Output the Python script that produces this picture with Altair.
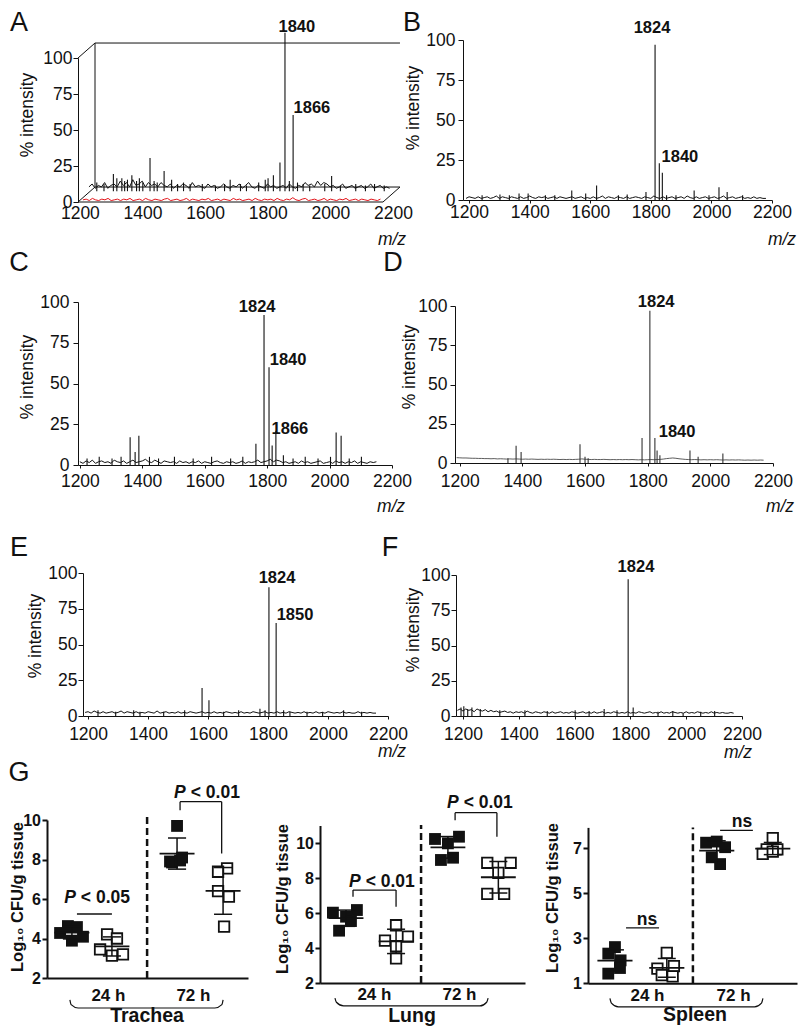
import altair as alt
import pandas as pd

FONT = "Liberation Sans"
INK = "#111111"
RED = "#e3151b"
O = 8                      # page margin: reference pixel X -> plot pixel X - O
W_ALL, H_ALL = 791, 1018   # one plot area covering the whole figure

XTICKS = [1200, 1400, 1600, 1800, 2000, 2200]
YTICKS = [0, 25, 50, 75, 100]

# ---------------- Spectra: baseline noise (every 10 m/z) + peaks ----------------
A_RED_START = 1210
A_RED_NOISE = [1.5,2,1,2.5,1.5,1,2,1.5,2.5,1, 1.5,2,1,2,1.5,2.5,1,1.5,2,1,
               2.5,1.5,1,2,1.5,1,2,2.5,1,1.5, 2,1,1.5,2.5,1,2,1.5,1,2,1.5,
               2.5,1,1.5,2,1,2,1.5,1,2.5,1.5, 2,1,1.5,2,1,2.5,1.5,1,2,1.5,
               2,1,2.5,1.5,1,2,1.5,3,1.5,1, 2,2.5,1,1.5,2,1,1.5,2.5,1,2,
               1.5,1,2,1.5,2.5,1,1.5,2,1,2, 1.5,1,2,1.5,1,2]
A_BLK_START = 1200
A_BLK_NOISE = [3,5,2,4,3,6,2,4,5,3, 7,4,6,3,8,4,5,7,3,6, 4,5,3,6,4,3,5,2,4,3,
               5,4,2,6,3,4,3,2,5,3, 4,2,3,5,3,2,4,3,5,2, 4,6,3,2,4,3,2,5,3,4,
               2,3,4,2,5,3,2,4,3,6, 4,5,3,7,4,6,5,3,4,2, 3,5,2,3,4,2,3,4,2,3,
               5,2,3,4,2,3,2]
A_BLK_PEAK_MZ = [1826, 1852, 1395, 1440, 1810, 1789, 1840, 1975, 1464, 1278, 1289, 1337, 1651,
                 1225, 1248, 1305, 1314, 1323, 1352, 1361, 1372, 1408, 1418, 1483, 1502, 1523,
                 1562, 1604, 1633, 1684, 1703, 1742, 1763, 1772, 1866, 1884, 1905, 1953, 2003,
                 2052, 2083, 2112, 2143]
A_BLK_PEAK_H = [110, 53, 23, 14, 20, 11, 7, 10.5, 8, 12, 9, 11, 8,
                6, 5, 9, 7, 8, 7, 9, 6, 7, 6, 5, 6, 5,
                5, 4, 5, 5, 4, 6, 8, 9, 6, 5, 4, 5, 4,
                5, 4, 5, 4]
A_LABELS = (["1840", "1866"], [1893, 1941], [121.5, 65.3])

B_START = 1190
B_NOISE = [1,2,1.5,1,2,1,1.5,2,1,1.5, 2.5,1,2,1.5,1,2,1.5,1,2,1, 1.5,2.5,1.5,1,2,1.5,2,1,1.5,2,
           1,2,1.5,1,1.5,2,1,1.5,2,1, 1.5,1,2,1,1.5,2.5,1,2,1.5,1, 2,1.5,1,2,1,1.5,2,1.5,1,2,
           1.5,1,2.5,1.5,1,2,1,1.5,2,1, 1.5,2,1,2.5,1.5,1,2,1,1.5,2, 1,1.5,2,1,1.5,2.5,1,1.5,2,1,
           1.5,2,1,1.5,1,2,1,1.5,1,1]
B_PEAK_MZ = [1814, 1828, 1838, 1852, 1539, 1621, 1585, 1395, 1365, 1784, 1943, 2025, 2052,
             1243, 1302, 1333, 1452, 1483, 1693, 1722, 1883, 1992, 2103]
B_PEAK_H = [97, 23, 17, 3, 6, 9, 4, 4, 4, 5, 6, 8, 5,
            3, 3.5, 3, 3, 3, 3, 3.5, 3, 3, 3]
B_LABELS = (["1824", "1840"], [1804, 1896], [107.5, 26.9])

C_START = 1200
C_NOISE = [2,1,2.5,1.5,3,1,2,2.5,1.5,2, 1,3,2,1.5,2.5,1,2,3,1.5,2, 2.5,3.5,2,1.5,3,2,1,2.5,2,1.5,
           2,1,2.5,1.5,2,1,2,1.5,2.5,1, 2,1.5,1,2,2.5,1.5,1,2,1.5,2, 1,1.5,2.5,1,2,1.5,2,3,1.5,2,
           2.5,3.5,2,3,2.5,1.5,2,1,1.5,2, 1,2.5,1.5,2,1,1.5,2,2.5,1,1.5, 2,1,2.5,1.5,2,1,2,1.5,2.5,1,
           2,1.5,1,2,1.5,2]
C_PEAK_MZ = [1790, 1806, 1828, 1361, 1389, 1377, 2021, 2037, 1764, 1816,
             1223, 1262, 1303, 1332, 1423, 1452, 1503, 1563, 1622, 1683, 1722, 1852, 1883,
             1922, 1963, 2003, 2063, 2102]
C_PEAK_H = [92, 60, 21, 17, 18, 8, 20, 18, 13, 12,
            4, 5, 4, 5, 5, 4, 5, 4, 5, 4, 5, 6, 4, 5, 4, 5, 4, 5]
C_LABELS = (["1824", "1840", "1866"], [1768, 1867, 1873], [96.9, 64.4, 22.1])

D_START = 1190
D_NOISE = [3.4,3.3,3.2,3.2,3.1,3,3,2.9,2.9,2.8, 2.8,2.7,2.8,2.6,2.7,2.6,2.5,2.6,2.5,2.6,
           2.5,2.4,2.5,2.4,2.5,2.4,2.3,2.4,2.3,2.4, 2.3,2.4,2.3,2.2,2.3,2.2,2.3,2.2,2.3,2.4,
           2.6,2.4,2.3,2.2,2.3,2.2,2.2,2.3,2.2,2.1, 2.2,2.1,2.2,2.1,2.2,2.1,2.2,2.1,2,2.1,
           2,2.1,2.2,2.1,2.2,2.3,2.5,2.8,3,3.2, 3,2.7,2.5,2.3,2.2,2.1,2.2,2.1,2,2.1,
           2,2.1,2,2.1,2,1.9,2,1.9,2,1.9, 2,1.9,1.8,1.9,1.8,1.9,1.8,1.9,1.8]
D_PEAK_MZ = [1807, 1782, 1823, 1830, 1839, 1935, 1961, 2040, 1380, 1396, 1354, 1584, 1600, 1610]
D_PEAK_H = [97, 16, 16, 8, 5, 8, 4, 6, 11, 7, 3, 12, 4, 3]
D_LABELS = (["1824", "1840"], [1827, 1894], [102.5, 19.7])

E_START = 1190
E_NOISE = [2.5,3,2,3.5,2.5,2,3,2,2.5,3, 2,2.5,3.5,2,3,2.5,2,3,2,2.5, 2,3,2.5,2,3.5,2,2.5,3,2,2.5,
           2,3,2,2.5,2,3,2.5,2,2.5,3, 2,2.5,2,3,2,2.5,2,3,2.5,2, 2.5,2,3,2,2.5,2,3,2.5,2,2.5,
           3,2,2.5,2,3,2,2.5,2,3,2.5, 2,2.5,2,3,2,2.5,2,3,2,2.5, 2,3,2.5,2,2.5,2,3,2,2.5,2,
           2,3,2,2.5,2,2.5,2,2]
E_PEAK_MZ = [1803, 1827, 1580, 1603, 1773, 1790, 1873, 1373, 1930,
             1233, 1292, 1352, 1452, 1522, 1652, 1702, 1852, 1982, 2052, 2112]
E_PEAK_H = [90, 65, 19.5, 11, 5, 4, 3, 3, 3,
            4, 3, 4, 3, 4, 3, 4, 4, 3, 4, 3]
E_LABELS = (["1824", "1850"], [1830, 1890], [96.5, 70.6])

F_START = 1180
F_NOISE = [4,5,3.5,5,4,4.5,3,5,4,3.5, 4.5,3,4,3,3.5,2.5,3,3.5,2.5,3, 2,3,2.5,3,2,3.5,2.5,2,3,2.5,
           2,3,2.5,2,3,2,2.5,3,2,2.5, 2,3,2.5,2,2.5,3,2,2.5,2,3, 2,2.5,3,2,2.5,2,3,2.5,2,2.5,
           2,3,2,2.5,2,3,2.5,2,2.5,3, 2,2.5,2,3,2,2.5,2,3,2.5,2, 2.5,2,3,2,2.5,2,3,2.5,2,2.5,
           2,3,2,2.5,2,2.5,2,2,2.5,2]
F_PEAK_MZ = [1792, 1810, 1706, 1899, 1989,
             1193, 1203, 1217, 1232, 1262, 1332, 1422, 1502, 1602, 1652, 1752, 1952, 2052, 2102]
F_PEAK_H = [97, 6, 5, 3, 2,
            6, 7, 5, 6, 5, 4, 4, 3.5, 4, 3.5, 4, 3.5, 3, 3.5]
F_LABELS = (["1824"], [1820], [105.7])

# ---------------- G: log10 CFU/g tissue ----------------
GROUPS = ["f24"] * 5 + ["o24"] * 5 + ["f72"] * 5 + ["o72"] * 5
TRA_X = [0.65,1.04,1.49,1.24,1.79, 2.99,3.48,2.64,3.23,3.78, 6.47,6.12,6.72,6.22,6.62, 8.96,8.51,8.51,9.05,8.81]
TRA_V = [4.28,4.63,4.58,3.89,4.09, 4.21,4.0,3.45,3.13,3.2, 9.7,7.9,8.1,7.85,7.95, 7.55,7.38,6.4,6.12,4.6]
TRA_C = {"f24": 1.24, "o24": 3.23, "f72": 6.47, "o72": 8.76}
LUN_X = [0.63,1.27,1.80,1.51,0.93, 3.71,3.17,4.29,3.71,3.71, 5.61,6.24,6.78,5.90,6.49, 8.16,9.30,8.70,8.16,8.98]
LUN_V = [6.02,5.79,6.17,5.54,4.99, 5.3,4.42,4.65,4.11,3.41, 10.23,9.98,10.36,9.03,9.16, 8.87,8.87,8.29,7.09,7.09]
LUN_C = {"f24": 1.27, "o24": 3.71, "f72": 6.24, "o72": 8.7}
SPL_X = [1.29,0.97,1.56,0.97,1.53, 3.77,3.32,4.11,3.53,4.05, 5.65,6.16,6.56,6.32,5.92, 8.84,8.55,9.06,8.36,8.84]
SPL_V = [2.61,2.32,2.02,1.43,1.68, 2.35,1.65,1.76,1.36,1.31, 7.25,7.3,7.05,6.3,6.6, 7.45,6.95,6.95,6.75,6.85]
SPL_C = {"f24": 1.29, "o24": 3.77, "f72": 6.16, "o72": 8.84}

ONE = pd.DataFrame({"o": [0]})


def xs_(d0, d1, X0, X1):
    return alt.Scale(domain=[d0, d1], range=[X0 - O, X1 - O], nice=False, zero=False)


def ys_(v0, v1, Y0, Y1):
    return alt.Scale(domain=[v0, v1], range=[Y0 - O, Y1 - O], nice=False, zero=False)


def txt(text, X, Y, size, weight="normal", style="normal", angle=0):
    return alt.Chart(ONE).mark_text(text=text, fontSize=size, fontWeight=weight, fontStyle=style,
                                    angle=angle, align="center", baseline="middle",
                                    font=FONT, color=INK).encode(x=alt.value(X - O), y=alt.value(Y - O))


def spec_xaxis(Ybot, pad, tick, domain=True):
    kw = dict(orient="bottom", offset=(Ybot - O) - H_ALL, values=XTICKS, title=None, format="d",
              labelFontSize=17.5, labelFont=FONT, labelColor=INK, grid=False, labelFlush=False,
              labelOverlap=False, domain=domain, domainColor=INK, domainWidth=1, labelPadding=pad)
    if tick > 0:
        kw.update(ticks=True, tickSize=tick, tickColor=INK, tickWidth=1)
    else:
        kw.update(ticks=False)
    return alt.Axis(**kw)


def spec_yaxis(Xleft, pad, tick=5):
    return alt.Axis(orient="left", offset=-(Xleft - O), values=YTICKS, title=None, format="d",
                    labelFontSize=17.5, labelFont=FONT, labelColor=INK, grid=False, domain=True,
                    domainColor=INK, domainWidth=1, ticks=True, tickSize=tick, tickColor=INK,
                    tickWidth=1, labelPadding=pad)


def spectrum(start, noise, pk_mz, pk_h, labs, d0, X0, X1, Y0, Y100, xpad, xtick, ypad,
             letter, letter_xy, ytitle_xy, mz_xy, color=INK, lw=1.0):
    xs = xs_(d0, 2200, X0, X1)
    ys = ys_(0, 100, Y0, Y100)
    nd = pd.DataFrame({"mz": [start + 10 * i for i in range(len(noise))], "v": noise})
    pk = pd.DataFrame({"mz": pk_mz, "h": pk_h, "z": [0.0] * len(pk_mz)})
    lb = pd.DataFrame({"t": labs[0], "mz": labs[1], "v": labs[2]})
    return [
        alt.Chart(nd).mark_line(color=color, strokeWidth=lw).encode(
            x=alt.X("mz:Q", scale=xs, axis=spec_xaxis(Y0, xpad, xtick)),
            y=alt.Y("v:Q", scale=ys, axis=spec_yaxis(X0, ypad))),
        alt.Chart(pk).mark_rule(color=color, strokeWidth=1.1).encode(
            x=alt.X("mz:Q", scale=xs, axis=None), y=alt.Y("z:Q", scale=ys, axis=None), y2="h:Q"),
        alt.Chart(lb).mark_text(font=FONT, fontSize=16.5, fontWeight="bold", color=INK,
                                baseline="middle").encode(
            x=alt.X("mz:Q", scale=xs, axis=None), y=alt.Y("v:Q", scale=ys, axis=None), text="t:N"),
        txt(letter, letter_xy[0], letter_xy[1], 27),
        txt("% intensity", ytitle_xy[0], ytitle_xy[1], 17.5, angle=270),
        txt("m/z", mz_xy[0], mz_xy[1], 17.5, style="italic"),
    ]


# ---------- Panel A (pseudo-3D) ----------
A_X0, A_X1, A_Y0, A_Y100 = 78, 393, 202, 58
BOX_DX, BOX_DY = 54.3, 10.4      # depth of the box, in data units
TR_DX, TR_DY = 29, 7.5           # depth of the black (back) trace, in data units
A_FRONT_END = 2168


def panel_a():
    xs = xs_(1194, 2200, A_X0, A_X1)
    ys = ys_(0, 100, A_Y0, A_Y100)
    red = pd.DataFrame({"mz": [A_RED_START + 10 * i for i in range(len(A_RED_NOISE))], "v": A_RED_NOISE})
    blk = pd.DataFrame({"mz": [A_BLK_START + 10 * i for i in range(len(A_BLK_NOISE))], "v": A_BLK_NOISE})
    pk = pd.DataFrame({"mz": A_BLK_PEAK_MZ, "h": A_BLK_PEAK_H})
    lb = pd.DataFrame({"t": A_LABELS[0], "mz": A_LABELS[1], "v": A_LABELS[2]})
    x0, x1 = 1194, A_FRONT_END
    bx0, bx1 = x0 + BOX_DX, x1 + BOX_DX
    seg = pd.DataFrame({
        "x": [x0, x0, bx0, x1, bx0, bx0, x0],
        "x2": [x1, bx0, bx1, bx1, bx0, bx1, bx0],
        "y": [0, 0, BOX_DY, 0, BOX_DY, 100 + BOX_DY, 100],
        "y2": [0, BOX_DY, BOX_DY, BOX_DY, 100 + BOX_DY, 100 + BOX_DY, 100 + BOX_DY],
    })
    return [
        alt.Chart(red).mark_line(color=RED, strokeWidth=1.0).encode(
            x=alt.X("mz:Q", scale=xs, axis=spec_xaxis(A_Y0, 2.4, 0, domain=False)),
            y=alt.Y("v:Q", scale=ys, axis=spec_yaxis(A_X0, 1))),
        alt.Chart(seg).mark_rule(color=INK, strokeWidth=1).encode(
            x=alt.X("x:Q", scale=xs, axis=None), x2="x2:Q",
            y=alt.Y("y:Q", scale=ys, axis=None), y2="y2:Q"),
        alt.Chart(blk).transform_calculate(
            xd=f"datum.mz + {TR_DX}", yd=f"datum.v + {TR_DY}").mark_line(
            color=INK, strokeWidth=1.0).encode(
            x=alt.X("xd:Q", scale=xs, axis=None), y=alt.Y("yd:Q", scale=ys, axis=None)),
        alt.Chart(pk).transform_calculate(
            xd=f"datum.mz + {TR_DX}", y0=f"{TR_DY}", yt=f"datum.h + {TR_DY}").mark_rule(
            color=INK, strokeWidth=1.1).encode(
            x=alt.X("xd:Q", scale=xs, axis=None), y=alt.Y("y0:Q", scale=ys, axis=None), y2="yt:Q"),
        alt.Chart(lb).mark_text(font=FONT, fontSize=16.5, fontWeight="bold", color=INK,
                                baseline="middle").encode(
            x=alt.X("mz:Q", scale=xs, axis=None), y=alt.Y("v:Q", scale=ys, axis=None), text="t:N"),
        txt("A", 19, 23, 27),
        txt("% intensity", 28, 115, 17.5, angle=270),
        txt("m/z", 392, 240, 17.5, style="italic"),
    ]


# ---------- Panel G ----------
def cfu(xs_list, vs_list, centers, v0, vtop, X0, X1, Y0, Ytop, yticks, dash, segs, ptxt, nstxt,
        brace, xlab_vals, xlab_pad, ylab_xy, tissue, tissue_xy, mhalf, chalf):
    xsc = xs_(0, 10, X0, X1)
    ysc = ys_(v0, vtop, Y0, Ytop)
    df = pd.DataFrame({"x": xs_list, "v": vs_list, "grp": GROUPS,
                       "kind": [g[0] for g in GROUPS], "cx": [centers[g] for g in GROUPS]})
    xaxis = alt.Axis(orient="bottom", offset=(Y0 - O) - H_ALL, values=xlab_vals,
                     labelExpr="datum.value < 5 ? '24 h' : '72 h'", ticks=False,
                     domain=True, domainWidth=2, domainColor=INK, labelFontSize=17,
                     labelFontWeight="bold", labelFont=FONT, labelColor=INK, labelPadding=xlab_pad,
                     grid=False, title=None, labelFlush=False)
    yaxis = alt.Axis(orient="left", offset=-(X0 - O), values=yticks, format="d", domain=True,
                     domainWidth=2, domainColor=INK, ticks=True, tickSize=5, tickWidth=2,
                     tickColor=INK, labelFontSize=16, labelFontWeight="bold", labelPadding=1.5,
                     labelColor=INK, labelFont=FONT, grid=False, title=None)
    base = alt.Chart(df)
    X = lambda f, ax=None: alt.X(f, scale=xsc, axis=ax)
    Y = lambda f, ax=None: alt.Y(f, scale=ysc, axis=ax)
    layers = [
        base.transform_filter("datum.kind == 'f'").mark_square(
            size=140, filled=True, color=INK, opacity=1).encode(x=X("x:Q", xaxis), y=Y("v:Q", yaxis)),
        base.transform_filter("datum.kind == 'o'").mark_square(
            size=110, filled=True, fill="white", stroke=INK, strokeWidth=1.8, opacity=1).encode(
            x=X("x:Q"), y=Y("v:Q")),
    ]
    stats = base.transform_aggregate(m="mean(v)", sd="stdev(v)", groupby=["grp", "cx"]).transform_calculate(
        lo="datum.m - datum.sd", hi="datum.m + datum.sd",
        ml=f"datum.cx - {mhalf}", mr=f"datum.cx + {mhalf}",
        cl=f"datum.cx - {chalf}", cr=f"datum.cx + {chalf}")
    layers += [
        stats.mark_rule(color=INK, strokeWidth=1.8).encode(x=X("ml:Q"), x2="mr:Q", y=Y("m:Q")),
        stats.mark_rule(color=INK, strokeWidth=1.5).encode(x=X("cx:Q"), y=Y("lo:Q"), y2="hi:Q"),
        stats.mark_rule(color=INK, strokeWidth=1.5).encode(x=X("cl:Q"), x2="cr:Q", y=Y("lo:Q")),
        stats.mark_rule(color=INK, strokeWidth=1.5).encode(x=X("cl:Q"), x2="cr:Q", y=Y("hi:Q")),
        alt.Chart(pd.DataFrame({"x": [dash[0]], "a": [dash[1]], "b": [dash[2]]})).mark_rule(
            color=INK, strokeWidth=2.5, strokeDash=[7, 4]).encode(x=X("x:Q"), y=Y("a:Q"), y2="b:Q"),
        alt.Chart(pd.DataFrame(segs, columns=["x", "x2", "y", "y2"])).mark_rule(
            color=INK, strokeWidth=1.3).encode(x=X("x:Q"), x2="x2:Q", y=Y("y:Q"), y2="y2:Q"),
        alt.Chart(pd.DataFrame({"x": brace[0], "y": brace[1], "i": list(range(len(brace[0])))})).mark_line(
            color=INK, strokeWidth=1.2, interpolate="monotone").encode(x=X("x:Q"), y=Y("y:Q"), order="i:Q"),
    ]
    fs = 17.5
    wP, gap, wR = 0.667 * fs, 5.0, 2.808 * fs
    left = -(wP + gap + wR) / 2
    if ptxt:
        pt = pd.DataFrame(ptxt, columns=["x", "y", "t"])
        layers.append(alt.Chart(pt).mark_text(text="P", font=FONT, fontSize=fs, fontWeight="bold",
                                              fontStyle="italic", align="left", baseline="middle",
                                              dx=left, color=INK).encode(x=X("x:Q"), y=Y("y:Q")))
        layers.append(alt.Chart(pt).mark_text(font=FONT, fontSize=fs, fontWeight="bold",
                                              align="left", baseline="middle",
                                              dx=left + wP + gap, color=INK).encode(
            x=X("x:Q"), y=Y("y:Q"), text="t:N"))
    if nstxt:
        nt = pd.DataFrame(nstxt, columns=["x", "y", "t"])
        layers.append(alt.Chart(nt).mark_text(font=FONT, fontSize=fs, fontWeight="bold",
                                              baseline="middle", color=INK).encode(
            x=X("x:Q"), y=Y("y:Q"), text="t:N"))
    layers.append(txt("Log\u2081\u2080 CFU/g tissue", ylab_xy[0], ylab_xy[1], 16.5, weight="bold", angle=270))
    layers.append(txt(tissue, tissue_xy[0], tissue_xy[1], 19.5, weight="bold"))
    return layers


LAYERS = []
LAYERS += panel_a()
LAYERS += spectrum(B_START, B_NOISE, B_PEAK_MZ, B_PEAK_H, B_LABELS, 1180, 463, 772, 200, 40,
                   0, 3, 3, "B", (412, 23), (414, 108), (782, 240))
LAYERS += spectrum(C_START, C_NOISE, C_PEAK_MZ, C_PEAK_H, C_LABELS, 1194, 78, 392, 465, 302,
                   4.4, 3, 4, "C", (19, 263), (28, 377), (391, 507))
LAYERS += spectrum(D_START, D_NOISE, D_PEAK_MZ, D_PEAK_H, D_LABELS, 1185, 455, 773, 463, 306,
                   6.4, 3, 3, "D", (393, 263), (410, 367), (780, 507), color="#333333", lw=0.8)
LAYERS += spectrum(E_START, E_NOISE, E_PEAK_MZ, E_PEAK_H, E_LABELS, 1183, 83, 388, 716, 573,
                   6.4, 3, 1, "E", (19, 548), (36, 636), (392, 752))
LAYERS += spectrum(F_START, F_NOISE, F_PEAK_MZ, F_PEAK_H, F_LABELS, 1175, 456, 742, 716, 575,
                   6.4, 3, 1, "F", (390, 548), (414, 630), (738, 753))
LAYERS += cfu(TRA_X, TRA_V, TRA_C, 2, 10, 47, 248, 978, 820, [2, 4, 6, 8, 10], (4.98, 2, 10.15),
              [(1.49, 3.23, 5.24, 5.24), (6.62, 8.69, 10.93, 10.93), (6.62, 6.62, 10.93, 10.5),
               (8.69, 8.69, 10.93, 8.31)],
              [(2.49, 6.05, "< 0.05"), (7.96, 11.37, "< 0.01")], [],
              ([1.14, 1.2, 1.55, 8.35, 8.7, 8.76], [0.89, 0.65, 0.48, 0.48, 0.65, 0.89]),
              [3.03, 7.26], 9.7, (18, 897), "Trachea", (147, 1016), 0.87, 0.45)
LAYERS += cfu(LUN_X, LUN_V, LUN_C, 2, 11, 320, 525, 983, 825.5, [2, 4, 6, 8, 10], (4.93, 2, 11.03),
              [(1.61, 3.71, 7.31, 7.31), (1.61, 1.61, 7.31, 6.93), (3.71, 3.71, 7.31, 6.36),
               (6.59, 8.63, 11.73, 11.73), (6.59, 6.59, 11.73, 11.3), (8.63, 8.63, 11.73, 10.36)],
              [(3.02, 7.77, "< 0.01"), (7.8, 12.29, "< 0.01")], [],
              ([0.73, 0.8, 1.15, 7.8, 8.13, 8.2], [1.14, 0.9, 0.69, 0.69, 0.9, 1.14]),
              [2.63, 6.78], 3.7, (283, 899), "Lung", (412, 1016), 0.85, 0.44)
LAYERS += cfu(SPL_X, SPL_V, SPL_C, 1, 7.93, 588, 797, 983.3, 827.4, [1, 3, 5, 7], (5.02, 1, 7.93),
              [(1.82, 3.4, 3.46, 3.46), (6.32, 7.89, 7.8, 7.8)],
              [], [(2.82, 3.8, "ns"), (7.37, 8.16, "ns")],
              ([1.05, 1.12, 1.45, 7.97, 8.3, 8.37], [0.33, 0.12, -0.05, -0.05, 0.12, 0.33]),
              [2.82, 6.94], 3.7, (553, 898), "Spleen", (695, 1015), 0.84, 0.43)
LAYERS.append(txt("G", 19, 773, 27))

chart = alt.layer(*LAYERS).resolve_scale(x="independent", y="independent").resolve_axis(
    x="independent", y="independent").properties(
    width=W_ALL, height=H_ALL, padding=0, autosize=alt.AutoSizeParams(type="none")
).configure_view(stroke=None).configure_axis(labelFont=FONT)

chart.save("out.html", embed_options={"renderer": "svg", "actions": False})
